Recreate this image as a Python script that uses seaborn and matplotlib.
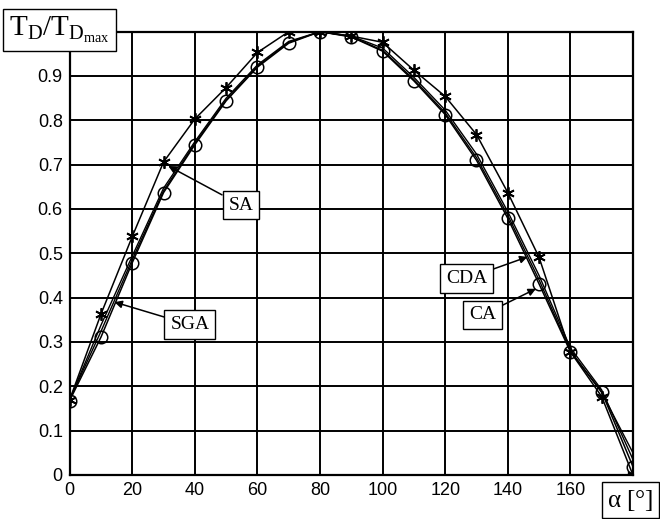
import numpy as np
import pandas as pd
import matplotlib
matplotlib.use("Agg")
import matplotlib.pyplot as plt
import seaborn as sns

alpha = [0, 10, 20, 30, 40, 50, 60, 70, 80, 90, 100, 110, 120, 130, 140, 150, 160, 170, 180]
sa = [0.17, 0.363, 0.538, 0.706, 0.803, 0.874, 0.953, 1.0, 1.0, 0.99, 0.976, 0.913, 0.854, 0.768, 0.637, 0.491, 0.278, 0.177, 0.0]
ca = [0.168, 0.311, 0.479, 0.637, 0.745, 0.844, 0.920, 0.974, 1.0, 0.988, 0.956, 0.889, 0.813, 0.710, 0.579, 0.431, 0.278, 0.188, 0.019]
sga = [0.17, 0.338, 0.494, 0.647, 0.752, 0.85, 0.925, 0.978, 1.0, 0.99, 0.963, 0.897, 0.823, 0.724, 0.594, 0.45, 0.287, 0.192, 0.035]
cda = [0.17, 0.324, 0.486, 0.641, 0.748, 0.846, 0.922, 0.976, 1.0, 0.989, 0.958, 0.892, 0.817, 0.716, 0.586, 0.44, 0.281, 0.186, 0.05]

x_ticks = [0, 20, 40, 60, 80, 100, 120, 140, 160, 180]
x_tick_labels = ["0", "20", "40", "60", "80", "100", "120", "140", "160", ""]
y_ticks = [0, 0.1, 0.2, 0.3, 0.4, 0.5, 0.6, 0.7, 0.8, 0.9, 1.0]
y_tick_labels = ["0", "0.1", "0.2", "0.3", "0.4", "0.5", "0.6", "0.7", "0.8", "0.9", ""]

sns.set_theme(style="white")
plt.rcParams["font.family"] = ["Liberation Sans", "DejaVu Sans"]
plt.rcParams["mathtext.fontset"] = "custom"
plt.rcParams["mathtext.rm"] = "Liberation Serif"
plt.rcParams["mathtext.it"] = "Liberation Serif:italic"

fig = plt.figure(figsize=(6.6, 5.19), dpi=100)
ax = fig.add_axes([0.1056, 0.0848, 0.959 - 0.1056, 0.939 - 0.0848])

df = pd.DataFrame({"alpha": alpha, "SA": sa, "CA": ca, "SGA": sga, "CDA": cda})

sns.lineplot(data=df, x="alpha", y="SGA", ax=ax, color="black", lw=1.0)
sns.lineplot(data=df, x="alpha", y="CDA", ax=ax, color="black", lw=1.0)
sns.lineplot(data=df, x="alpha", y="CA", ax=ax, color="black", lw=1.1,
             marker="o", markersize=9, markerfacecolor="none",
             markeredgecolor="black", markeredgewidth=1.1)
sns.lineplot(data=df, x="alpha", y="SA", ax=ax, color="black", lw=1.1,
             marker=(6, 2, 0), markersize=9, markeredgecolor="black",
             markeredgewidth=1.3)

ax.set_xlim(0, 180)
ax.set_ylim(0, 1.0)
ax.set_xticks(x_ticks)
ax.set_xticklabels(x_tick_labels)
ax.set_yticks(y_ticks)
ax.set_yticklabels(y_tick_labels)
ax.tick_params(axis="both", labelsize=13, colors="black", length=0, pad=5)
ax.set_xlabel("")
ax.set_ylabel("")
ax.grid(True, color="black", lw=1.4)
for s in ax.spines.values():
    s.set_color("black")
    s.set_linewidth(1.6)

box = dict(boxstyle="square,pad=0.3", fc="white", ec="black", lw=1.0)
arrow = dict(arrowstyle="-|>", color="black", lw=1.1, mutation_scale=11, shrinkA=0, shrinkB=0)
lab_font = dict(family="Liberation Serif", fontsize=14, color="black")

ax.annotate("SA", xy=(31.5, 0.697), xytext=(54.7, 0.609), ha="center", va="center",
            bbox=box, arrowprops=arrow, zorder=6, **lab_font)
ax.annotate("SGA", xy=(14.3, 0.39), xytext=(38.4, 0.339), ha="center", va="center",
            bbox=box, arrowprops=arrow, zorder=6, **lab_font)
ax.annotate("CDA", xy=(146.3, 0.492), xytext=(126.8, 0.443), ha="center", va="center",
            bbox=box, arrowprops=arrow, zorder=6, **lab_font)
ax.annotate("CA", xy=(149.0, 0.42), xytext=(132.0, 0.361), ha="center", va="center",
            bbox=box, arrowprops=arrow, zorder=6, **lab_font)

fig.text(0.09, 0.942, r"$\mathrm{T_D/T_{D_{max}}}$", ha="center", va="center",
         fontsize=21, color="black", zorder=10,
         bbox=dict(boxstyle="square,pad=0.2", fc="white", ec="black", lw=1.0))
fig.text(0.955, 0.036, r"$\mathrm{\alpha}$" + " [°]", ha="center", va="center",
         fontsize=18, family="Liberation Serif", color="black", zorder=10,
         bbox=dict(boxstyle="square,pad=0.22", fc="white", ec="black", lw=1.0))

fig.savefig("out.png", dpi=100)
